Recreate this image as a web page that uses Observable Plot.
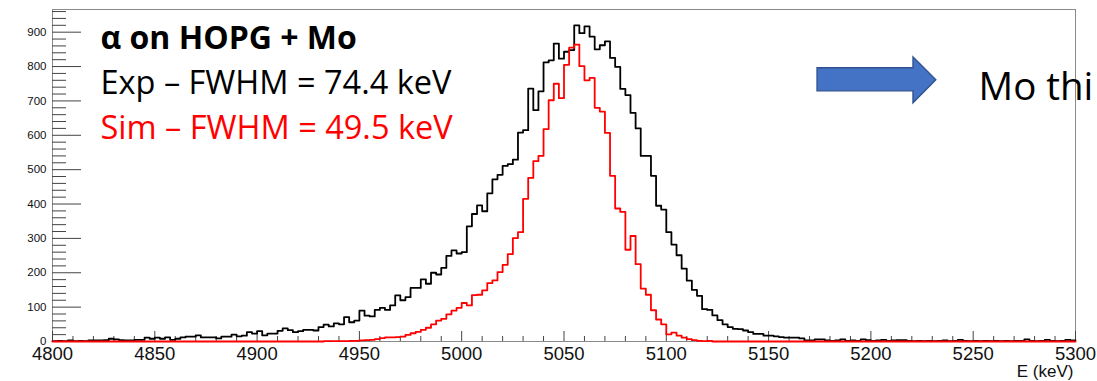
<!DOCTYPE html>
<html>
<head>
<meta charset="utf-8">
<script src="https://cdn.jsdelivr.net/npm/d3@7"></script>
<script src="https://cdn.jsdelivr.net/npm/@observablehq/plot@0.6"></script>
<style>
  html, body { margin: 0; padding: 0; background: #fff; }
</style>
</head>
<body>
<div id="chart"></div>
<script>
// ---- Histogram binning (keV) ----
const binStart = 4800;
const binWidth = 2.5;

// ---- Experimental spectrum (black), 200 bins of 2.5 keV from 4800 keV ----
const expCounts = [
  1, 2, 1, 3, 1, 2, 1, 3, 3, 3,
  4, 8, 6, 4, 3, 3, 5, 5, 11, 8,
  11, 8, 12, 5, 8, 12, 14, 14, 18, 12,
  12, 12, 9, 14, 14, 20, 15, 17, 27, 23,
  30, 18, 23, 23, 31, 38, 33, 27, 30, 34,
  34, 32, 42, 49, 44, 53, 50, 71, 56, 61,
  90, 75, 73, 92, 98, 92, 105, 134, 120, 129,
  156, 156, 181, 168, 200, 195, 214, 249, 265, 256,
  260, 335, 371, 396, 379, 431, 472, 485, 511, 516,
  529, 608, 615, 736, 673, 728, 812, 818, 867, 823,
  843, 848, 920, 897, 917, 887, 850, 862, 873, 825,
  799, 735, 717, 665, 620, 540, 540, 482, 395, 384,
  318, 282, 251, 212, 177, 150, 133, 94, 92, 76,
  62, 50, 42, 37, 36, 32, 27, 22, 22, 17,
  17, 15, 13, 11, 11, 11, 9, 3, 3, 6,
  6, 3, 2, 3, 6, 2, 3, 2, 6, 4,
  2, 3, 5, 2, 3, 4, 4, 2, 1, 2,
  1, 2, 1, 2, 3, 1, 2, 5, 2, 1,
  2, 1, 2, 1, 2, 1, 2, 1, 2, 2,
  6, 2, 1, 2, 5, 2, 1, 2, 5, 3
];

// ---- Simulated spectrum (red), same binning ----
const simCounts = [
  0, 0, 0, 0, 0, 0, 0, 0, 0, 0,
  0, 0, 0, 0, 0, 0, 0, 0, 0, 0,
  0, 0, 0, 0, 0, 0, 0, 0, 0, 0,
  0, 0, 0, 0, 0, 0, 0, 0, 0, 0,
  0, 0, 0, 0, 0, 0, 0, 0, 0, 0,
  0, 0, 0, 1, 1, 1, 1, 1, 2, 2,
  3, 4, 5, 7, 10, 12, 12, 13, 14, 19,
  24, 28, 34, 40, 50, 61, 66, 79, 90, 98,
  112, 105, 135, 136, 149, 170, 178, 202, 223, 254,
  301, 318, 415, 476, 525, 540, 618, 702, 750, 708,
  805, 855, 864, 801, 760, 767, 680, 669, 607, 482,
  387, 377, 267, 307, 225, 154, 136, 91, 64, 50,
  21, 26, 17, 11, 7, 4, 2, 1, 2, 0,
  0, 0, 0, 0, 0, 0, 0, 0, 0, 0,
  0, 0, 0, 0, 0, 0, 0, 0, 0, 0,
  0, 0, 0, 0, 0, 0, 0, 0, 0, 0,
  0, 0, 0, 0, 0, 0, 0, 0, 0, 0,
  0, 0, 0, 0, 0, 0, 0, 0, 0, 0,
  0, 0, 0, 0, 0, 0, 0, 0, 0, 0,
  0, 0, 0, 0, 0, 0, 0, 0, 0, 0
];

// ---- Axis ticks ----
const xTickLabels = [4800, 4850, 4900, 4950, 5000, 5050, 5100, 5150, 5200, 5250, 5300];
const xMinorTicks = d3.range(4800, 5301, 10).filter(v => v % 50 !== 0);
const yTickLabels = [0, 100, 200, 300, 400, 500, 600, 700, 800, 900];
const yMinorTicks = d3.range(0, 961, 20).filter(v => v % 100 !== 0);

// ---- Texts ----
const titleLine = "α on HOPG + Mo";
const expLine = "Exp – FWHM = 74.4 keV";
const simLine = "Sim – FWHM = 49.5 keV";
const sideText = "Mo thi";
const xLabel = "E (keV)";

// ---- Arrow annotation (in data coordinates: keV, counts) ----
const arrowShape = [
  [5173.9, 795], [5220.8, 795], [5220.8, 827], [5232.0, 760],
  [5220.8, 693], [5220.8, 728], [5173.9, 728]
];

function stepPoints(counts) {
  const pts = counts.map((c, i) => ({E: binStart + i * binWidth, c}));
  pts.push({E: binStart + counts.length * binWidth, c: counts[counts.length - 1]});
  return pts;
}
const expPts = stepPoints(expCounts);
const simPts = stepPoints(simCounts);

const W = 1097, H = 381;
const mL = 52, mR = 22, mT = 9, mB = 40;
const fw = W - mL - mR, fh = H - mT - mB;

const arrowMark = (index, scales) => {
  const g = document.createElementNS("http://www.w3.org/2000/svg", "polygon");
  g.setAttribute("points", arrowShape.map(([x, y]) => `${scales.x(x)},${scales.y(y)}`).join(" "));
  g.setAttribute("fill", "#4472C4");
  g.setAttribute("stroke", "#2F528F");
  g.setAttribute("stroke-width", "1.3");
  return g;
};

const chart = Plot.plot({
  width: W,
  height: H,
  marginLeft: mL,
  marginRight: mR,
  marginTop: mT,
  marginBottom: mB,
  style: {background: "#fff", fontFamily: "'Liberation Sans', Arial, sans-serif", overflow: "visible"},
  x: {domain: [4800, 5300], axis: null},
  y: {domain: [0, 966], axis: null},
  marks: [
    Plot.frame({stroke: "#8a8a8a", strokeWidth: 1}),
    // inward ticks, x axis
    Plot.tickX(xTickLabels, {x: d => d, insetTop: fh - 10, stroke: "#444", strokeWidth: 1}),
    Plot.tickX(xMinorTicks, {x: d => d, insetTop: fh - 5, stroke: "#444", strokeWidth: 1}),
    // inward ticks, y axis
    Plot.tickY(yTickLabels, {y: d => d, insetRight: fw - 29, stroke: "#444", strokeWidth: 1}),
    Plot.tickY(yMinorTicks, {y: d => d, insetRight: fw - 14, stroke: "#444", strokeWidth: 1}),
    Plot.axisX(xTickLabels, {tickSize: 0, tickPadding: 5, fontSize: 18.5, fill: "#111", label: null, tickFormat: d => String(d)}),
    Plot.axisY(yTickLabels, {tickSize: 0, tickPadding: 6, fontSize: 11.5, fill: "#111", label: null, tickFormat: d => String(d)}),
    Plot.text([xLabel], {frameAnchor: "bottom-right", dx: -2, dy: 35, lineAnchor: "bottom", textAnchor: "end", fontSize: 17, fill: "#111"}),
    // histograms
    Plot.line(expPts, {x: "E", y: "c", curve: "step-after", stroke: "#000", strokeWidth: 1.8}),
    Plot.line(simPts, {x: "E", y: "c", curve: "step-after", stroke: "#ff0000", strokeWidth: 1.8}),
    // slide annotations
    Plot.text([titleLine], {frameAnchor: "top-left", dx: 48, dy: 39, lineAnchor: "bottom", textAnchor: "start", fontSize: 32, fontWeight: "bold", fontFamily: "'Open Sans', sans-serif", fill: "#000"}),
    Plot.text([expLine], {frameAnchor: "top-left", dx: 48, dy: 84, lineAnchor: "bottom", textAnchor: "start", fontSize: 32.5, fontFamily: "'Open Sans', sans-serif", fill: "#000"}),
    Plot.text([simLine], {frameAnchor: "top-left", dx: 48, dy: 129, lineAnchor: "bottom", textAnchor: "start", fontSize: 32.5, fontFamily: "'Open Sans', sans-serif", fill: "#ff0000"}),
    arrowMark,
    Plot.text([sideText], {frameAnchor: "top-right", dx: -97, dy: 90, lineAnchor: "bottom", textAnchor: "start", fontSize: 38.5, fontFamily: "'Open Sans', sans-serif", fill: "#000"})
  ]
});
document.getElementById("chart").appendChild(chart);
</script>
</body>
</html>
